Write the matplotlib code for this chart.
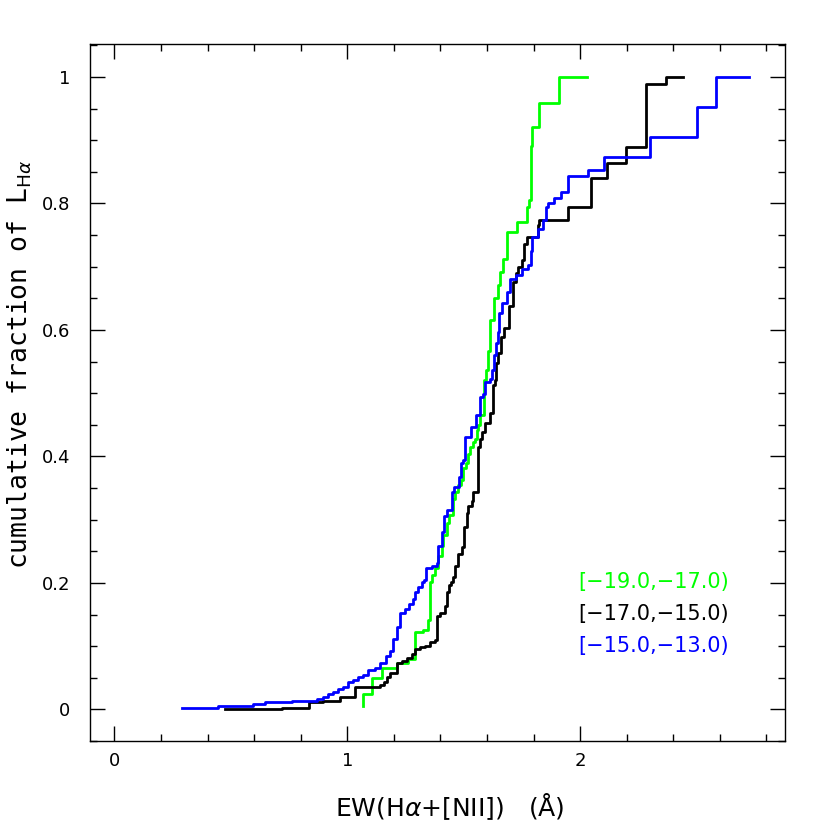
import matplotlib

matplotlib.use("Agg")
import matplotlib.pyplot as plt
from matplotlib.ticker import MultipleLocator

# cumulative L_Halpha fraction vs EW, one step curve per magnitude bin
green_x = [1.067, 1.067, 1.105, 1.148, 1.213, 1.260, 1.290, 1.325, 1.346, 1.355,
           1.363, 1.376, 1.389, 1.406, 1.411, 1.428, 1.437, 1.454, 1.462, 1.475,
           1.488, 1.497, 1.510, 1.518, 1.527, 1.540, 1.548, 1.557, 1.561, 1.570,
           1.587, 1.596, 1.604, 1.613, 1.630, 1.647, 1.656, 1.669, 1.686, 1.729,
           1.772, 1.781, 1.789, 1.794, 1.824, 1.910, 2.030]
green_y = [0.005, 0.024, 0.049, 0.066, 0.073, 0.079, 0.122, 0.126, 0.142, 0.201,
           0.213, 0.224, 0.242, 0.258, 0.276, 0.295, 0.308, 0.332, 0.344, 0.355,
           0.363, 0.382, 0.390, 0.403, 0.415, 0.422, 0.427, 0.442, 0.450, 0.466,
           0.521, 0.537, 0.566, 0.615, 0.651, 0.671, 0.692, 0.712, 0.755, 0.771,
           0.795, 0.806, 0.891, 0.921, 0.959, 1.000, 1.000]

black_x = [0.477, 0.718, 0.834, 0.895, 0.968, 1.032, 1.101, 1.140, 1.157, 1.170,
           1.183, 1.213, 1.234, 1.256, 1.277, 1.290, 1.312, 1.333, 1.355, 1.376,
           1.385, 1.398, 1.419, 1.428, 1.437, 1.445, 1.454, 1.462, 1.475, 1.492,
           1.501, 1.514, 1.518, 1.535, 1.540, 1.561, 1.570, 1.578, 1.591, 1.613,
           1.626, 1.634, 1.639, 1.647, 1.660, 1.673, 1.695, 1.712, 1.725, 1.733,
           1.751, 1.759, 1.772, 1.819, 1.824, 1.948, 2.047, 2.116, 2.198, 2.284,
           2.370, 2.443]
black_y = [0.001, 0.002, 0.011, 0.014, 0.019, 0.035, 0.036, 0.039, 0.044, 0.052,
           0.058, 0.074, 0.076, 0.081, 0.088, 0.095, 0.098, 0.101, 0.107, 0.109,
           0.147, 0.153, 0.163, 0.186, 0.196, 0.201, 0.209, 0.226, 0.245, 0.256,
           0.288, 0.311, 0.321, 0.329, 0.343, 0.415, 0.427, 0.439, 0.453, 0.469,
           0.513, 0.521, 0.548, 0.564, 0.589, 0.603, 0.637, 0.675, 0.690, 0.700,
           0.711, 0.736, 0.747, 0.766, 0.774, 0.795, 0.840, 0.864, 0.889, 0.989,
           1.000, 1.000]

blue_x = [0.292, 0.443, 0.594, 0.645, 0.761, 0.869, 0.895, 0.916, 0.938, 0.959,
          0.981, 1.002, 1.024, 1.045, 1.067, 1.088, 1.118, 1.140, 1.166, 1.183,
          1.196, 1.213, 1.226, 1.247, 1.265, 1.282, 1.290, 1.303, 1.320, 1.329,
          1.338, 1.363, 1.385, 1.389, 1.406, 1.415, 1.428, 1.449, 1.458, 1.480,
          1.488, 1.497, 1.505, 1.531, 1.553, 1.570, 1.583, 1.591, 1.613, 1.622,
          1.630, 1.639, 1.647, 1.652, 1.665, 1.686, 1.699, 1.725, 1.751, 1.776,
          1.789, 1.794, 1.819, 1.841, 1.854, 1.862, 1.888, 1.918, 1.948, 2.034,
          2.103, 2.301, 2.503, 2.585, 2.727]
blue_y = [0.003, 0.005, 0.008, 0.011, 0.014, 0.016, 0.019, 0.024, 0.027, 0.033,
          0.036, 0.043, 0.047, 0.052, 0.055, 0.062, 0.065, 0.074, 0.084, 0.092,
          0.112, 0.131, 0.153, 0.158, 0.166, 0.174, 0.185, 0.194, 0.201, 0.205,
          0.224, 0.227, 0.232, 0.258, 0.280, 0.305, 0.316, 0.344, 0.352, 0.368,
          0.390, 0.395, 0.430, 0.447, 0.466, 0.494, 0.498, 0.518, 0.523, 0.537,
          0.561, 0.580, 0.596, 0.626, 0.643, 0.660, 0.681, 0.686, 0.697, 0.703,
          0.725, 0.747, 0.760, 0.774, 0.795, 0.801, 0.809, 0.818, 0.844, 0.852,
          0.874, 0.905, 0.953, 1.000, 1.000]

bins = ["[\u221219.0,\u221217.0)", "[\u221217.0,\u221215.0)", "[\u221215.0,\u221213.0)"]
colors = ["#00ff00", "black", "#0000ff"]

fig = plt.figure(figsize=(8.3, 8.3), dpi=100)
ax = fig.add_axes([0.1084, 0.1072, 0.8374, 0.8398])

for xs, ys, c in zip([green_x, black_x, blue_x], [green_y, black_y, blue_y], colors):
    ax.plot(xs, ys, drawstyle="steps-post", color=c, lw=2.0)

for i, (lab, c) in enumerate(zip(bins, colors)):
    ax.text(0.702, 0.228 - i * 0.046, lab, color=c, fontsize=15,
            transform=ax.transAxes, va="center", ha="left")

ax.set_xlim(-0.105, 2.88)
ax.set_ylim(-0.05, 1.052)
ax.xaxis.set_minor_locator(MultipleLocator(0.2))
ax.yaxis.set_minor_locator(MultipleLocator(0.05))
ax.set_xticks([0, 1, 2], ["0", "1", "2"])
ax.set_yticks([0, 0.2, 0.4, 0.6, 0.8, 1.0], ["0", "0.2", "0.4", "0.6", "0.8", "1"])
ax.tick_params(which="both", direction="in", top=True, right=True, width=1)
ax.tick_params(which="major", length=11)
ax.tick_params(which="minor", length=5)
ax.tick_params(axis="x", which="major", pad=8, labelsize=13)
ax.tick_params(axis="y", which="major", pad=14, labelsize=13)
for s in ax.spines.values():
    s.set_linewidth(1.0)

ax.set_xlabel(r"EW(H$\alpha$+[NII])   ($\mathrm{\AA}$)", fontsize=18)
ax.xaxis.set_label_coords(0.518, -0.072)
ax.set_ylabel(r"cumulative fraction of L$_{\mathrm{H}\alpha}$", fontsize=19,
              family="DejaVu Sans Mono")
ax.yaxis.set_label_coords(-0.08, 0.54)

fig.savefig("out.png", dpi=100)
